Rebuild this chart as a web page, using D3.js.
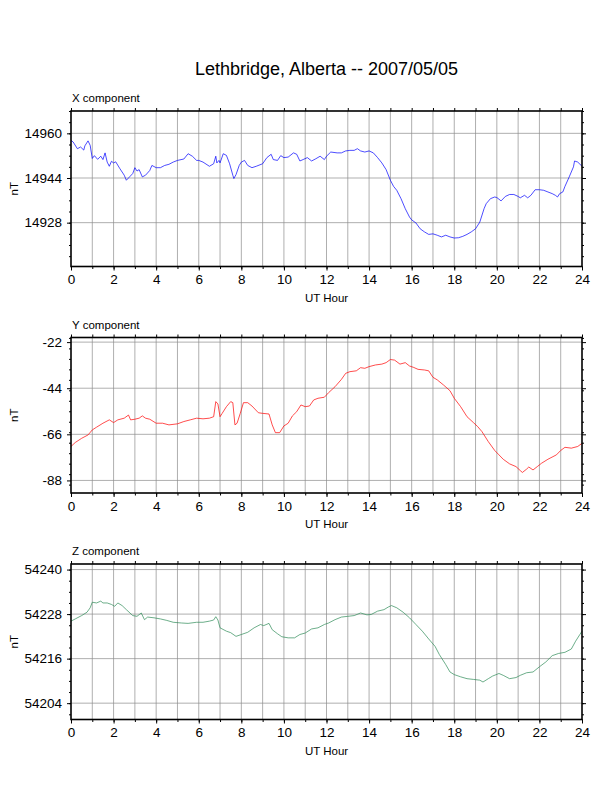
<!DOCTYPE html>
<html>
<head>
<meta charset="utf-8">
<script src="https://cdn.jsdelivr.net/npm/d3@7"></script>
<style>
  body { margin: 0; background: #fff; }
  text { font-family: "Liberation Sans", Arial, Helvetica, sans-serif; fill: #000; }
</style>
</head>
<body>
<svg id="container" width="612" height="792"></svg>
<script>
// X component (nT)
var xHours = [0, 0.1, 0.3, 0.45, 0.6, 0.65, 0.8, 0.9, 1.0, 1.1, 1.25, 1.4, 1.5, 1.6, 1.7, 1.8, 1.9, 2.0, 2.1, 2.3, 2.5, 2.6, 2.75, 2.9, 3.0, 3.1, 3.2, 3.35, 3.5, 3.7, 3.8, 4.0, 4.2, 4.4, 4.6, 4.8, 5.0, 5.3, 5.5, 5.7, 5.9, 6.0, 6.2, 6.5, 6.7, 6.8, 6.85, 6.95, 7.0, 7.15, 7.3, 7.45, 7.6, 7.65, 7.75, 7.9, 8.0, 8.15, 8.3, 8.5, 8.7, 9.0, 9.2, 9.4, 9.5, 9.7, 9.85, 10.0, 10.2, 10.45, 10.6, 10.75, 10.9, 11.1, 11.3, 11.5, 11.7, 11.9, 12.0, 12.2, 12.5, 12.7, 12.9, 13.1, 13.3, 13.45, 13.6, 13.8, 14.0, 14.2, 14.4, 14.6, 14.8, 15.0, 15.15, 15.3, 15.5, 15.7, 15.9, 16.0, 16.2, 16.4, 16.6, 16.8, 17.0, 17.2, 17.4, 17.6, 17.8, 18.0, 18.2, 18.4, 18.6, 18.8, 19.0, 19.2, 19.4, 19.5, 19.7, 19.9, 20.0, 20.2, 20.4, 20.6, 20.8, 21.0, 21.1, 21.3, 21.45, 21.6, 21.8, 22.0, 22.2, 22.4, 22.6, 22.75, 22.85, 22.95, 23.1, 23.2, 23.4, 23.6, 23.65, 23.8, 24.0];
var xValues = [14957.5, 14956.9, 14954.5, 14955.1, 14954.0, 14955.5, 14957.3, 14955.7, 14951.0, 14952.0, 14950.7, 14951.8, 14950.6, 14953.0, 14949.7, 14948.2, 14950.0, 14949.4, 14949.8, 14947.3, 14945.0, 14943.2, 14944.4, 14945.6, 14947.7, 14946.5, 14947.0, 14944.4, 14945.0, 14946.7, 14948.5, 14947.7, 14947.7, 14948.5, 14948.9, 14949.7, 14950.3, 14950.8, 14952.7, 14951.8, 14950.3, 14950.3, 14949.7, 14948.2, 14949.1, 14951.8, 14949.4, 14950.3, 14949.4, 14952.7, 14952.1, 14949.1, 14945.0, 14943.8, 14945.2, 14948.5, 14949.7, 14950.3, 14948.5, 14947.7, 14948.2, 14949.1, 14951.3, 14952.5, 14950.6, 14950.3, 14952.0, 14951.3, 14951.5, 14953.0, 14952.5, 14950.1, 14950.6, 14951.3, 14950.1, 14950.9, 14951.8, 14950.6, 14951.8, 14953.3, 14953.0, 14953.0, 14953.7, 14953.9, 14953.9, 14954.5, 14953.7, 14953.3, 14953.7, 14953.0, 14951.3, 14949.4, 14947.0, 14943.2, 14941.0, 14939.6, 14936.6, 14933.0, 14930.0, 14929.0, 14927.9, 14925.8, 14924.7, 14923.8, 14924.0, 14923.5, 14922.9, 14923.5, 14922.9, 14922.5, 14922.6, 14923.1, 14923.8, 14924.7, 14925.8, 14928.2, 14933.0, 14934.8, 14936.6, 14937.2, 14937.0, 14935.8, 14937.4, 14938.1, 14938.1, 14937.4, 14936.9, 14937.8, 14936.9, 14937.8, 14939.8, 14939.8, 14939.6, 14939.0, 14938.4, 14937.8, 14937.2, 14938.4, 14939.0, 14941.0, 14944.4, 14948.0, 14950.1, 14949.7, 14948.2];

// Y component (nT)
var yHours = [0, 0.2, 0.5, 0.8, 1.0, 1.2, 1.5, 1.8, 2.0, 2.2, 2.5, 2.7, 2.8, 3.0, 3.2, 3.35, 3.5, 3.7, 4.0, 4.3, 4.6, 5.0, 5.3, 5.6, 5.9, 6.2, 6.5, 6.7, 6.8, 6.9, 7.0, 7.1, 7.3, 7.5, 7.6, 7.7, 7.8, 7.95, 8.1, 8.3, 8.5, 8.8, 9.0, 9.3, 9.45, 9.6, 9.8, 10.0, 10.2, 10.4, 10.6, 10.8, 11.0, 11.2, 11.4, 11.6, 11.9, 12.1, 12.4, 12.7, 12.9, 13.1, 13.4, 13.6, 13.8, 14.0, 14.3, 14.6, 14.8, 15.0, 15.2, 15.45, 15.7, 15.9, 16.1, 16.3, 16.6, 16.8, 17.0, 17.2, 17.5, 17.8, 18.0, 18.3, 18.6, 18.9, 19.1, 19.3, 19.6, 19.9, 20.1, 20.3, 20.6, 20.9, 21.1, 21.2, 21.4, 21.5, 21.7, 21.9, 22.1, 22.4, 22.8, 23.0, 23.2, 23.5, 23.8, 24.0];
var yValues = [-71.8, -69.9, -67.9, -66.3, -63.9, -62.6, -60.7, -59.1, -60.4, -59.1, -58.3, -56.8, -59.1, -58.8, -58.3, -57.2, -58.3, -58.8, -60.7, -60.7, -61.5, -61.0, -59.9, -59.1, -58.3, -58.6, -58.3, -57.6, -50.4, -51.5, -57.6, -56.0, -52.8, -50.4, -50.9, -61.5, -60.7, -56.0, -50.9, -50.9, -52.5, -55.7, -56.0, -56.3, -61.5, -65.2, -65.2, -62.0, -60.7, -57.2, -55.2, -52.0, -52.8, -52.5, -49.6, -48.8, -48.3, -46.1, -43.3, -39.8, -36.9, -36.1, -35.7, -34.2, -34.5, -33.7, -32.9, -32.5, -31.8, -30.3, -30.6, -32.5, -31.8, -33.4, -34.1, -35.0, -35.3, -35.7, -38.8, -40.0, -42.5, -45.2, -48.8, -52.8, -57.6, -60.4, -62.3, -64.7, -69.5, -73.7, -75.8, -77.9, -80.1, -81.4, -83.3, -84.2, -82.6, -81.6, -83.0, -81.4, -79.8, -77.9, -75.8, -73.7, -72.2, -72.6, -71.8, -70.3];

// Z component (nT)
var zHours = [0, 0.2, 0.5, 0.75, 0.9, 1.0, 1.2, 1.4, 1.5, 1.7, 1.9, 2.05, 2.2, 2.4, 2.6, 2.9, 3.1, 3.3, 3.45, 3.6, 3.9, 4.2, 4.5, 4.8, 5.2, 5.5, 5.9, 6.2, 6.5, 6.7, 6.8, 6.9, 7.0, 7.3, 7.5, 7.75, 8.0, 8.3, 8.6, 8.9, 9.05, 9.3, 9.45, 9.7, 9.9, 10.2, 10.5, 10.75, 11.0, 11.3, 11.6, 11.9, 12.1, 12.4, 12.7, 13.0, 13.3, 13.6, 13.9, 14.1, 14.4, 14.7, 14.9, 15.05, 15.3, 15.6, 15.9, 16.2, 16.5, 16.8, 17.1, 17.3, 17.6, 17.8, 18.0, 18.3, 18.6, 18.9, 19.2, 19.35, 19.6, 19.8, 20.1, 20.3, 20.6, 20.9, 21.1, 21.4, 21.7, 22.0, 22.3, 22.6, 22.9, 23.2, 23.5, 23.7, 23.9, 24.0];
var zValues = [54226.1, 54226.7, 54227.6, 54228.5, 54229.7, 54231.2, 54231.0, 54231.5, 54231.0, 54231.0, 54230.6, 54230.1, 54231.0, 54230.3, 54229.2, 54227.6, 54227.4, 54228.3, 54226.5, 54227.2, 54227.0, 54226.7, 54226.3, 54225.8, 54225.6, 54225.5, 54225.8, 54225.8, 54226.1, 54226.4, 54227.3, 54226.4, 54224.3, 54223.4, 54223.0, 54222.0, 54222.5, 54223.1, 54224.3, 54225.2, 54224.9, 54225.5, 54223.8, 54222.7, 54221.9, 54221.6, 54221.6, 54222.5, 54222.9, 54224.0, 54224.3, 54225.2, 54225.6, 54226.5, 54227.2, 54227.4, 54227.6, 54228.3, 54227.8, 54227.9, 54228.8, 54229.2, 54229.9, 54230.3, 54229.7, 54228.5, 54227.0, 54225.2, 54223.4, 54221.3, 54219.3, 54217.1, 54214.4, 54212.4, 54211.7, 54211.1, 54210.6, 54210.4, 54210.2, 54209.7, 54210.6, 54211.3, 54212.0, 54211.5, 54210.6, 54210.9, 54211.5, 54212.2, 54212.4, 54213.8, 54215.1, 54216.8, 54217.4, 54217.7, 54218.6, 54220.7, 54222.5, 54223.4];

var hourTicks = [0, 2, 4, 6, 8, 10, 12, 14, 16, 18, 20, 22, 24];
var panelNames = ["X component", "Y component", "Z component"];
var panelColors = ["#0000ff", "#ff0000", "#2e8b57"];
var yDomains = [[14912.3, 14968], [-94, -19.8], [54199.6, 54241.5]];
var majorSteps = [16, 22, 12];
var minorSteps = [4, 5, 3];
var titleText = "Lethbridge, Alberta -- 2007/05/05";

const main = function(){
  var svg = d3.select('#container');

  var left = 71, right = 582, plotH = 155.5;
  var tops = [111, 337.5, 564];
  var series = [
    { h: xHours, v: xValues },
    { h: yHours, v: yValues },
    { h: zHours, v: zValues }
  ];

  svg.append("text")
    .attr("x", (left + right) / 2)
    .attr("y", 75)
    .attr("text-anchor", "middle")
    .style("font-size", "18px")
    .text(titleText);

  var x = d3.scaleLinear().domain([0, 24]).range([left, right]);

  // multiples of step that fall inside the domain
  var stepTicks = function(dom, step) {
    var lo = Math.ceil(dom[0] / step - 1e-9), hi = Math.floor(dom[1] / step + 1e-9);
    return d3.range(lo, hi + 1).map(function(k){ return k * step; });
  };

  // plain hyphen for negatives, like the original plot
  var plainNum = function(d){ return String(Math.round(d)); };

  panelNames.forEach(function(name, i) {
    var top = tops[i], bottom = top + plotH;
    var y = d3.scaleLinear().domain(yDomains[i]).range([bottom, top]);
    var g = svg.append("g");
    var major = stepTicks(yDomains[i], majorSteps[i]);
    var minor = stepTicks(yDomains[i], minorSteps[i]);
    var hours = d3.range(0, 25);

    // grid
    g.append("g").selectAll("line").data(hours.slice(1, 24)).join("line")
      .attr("x1", x).attr("x2", x)
      .attr("y1", top).attr("y2", bottom)
      .attr("stroke", "#8c8c8c").attr("stroke-width", 0.7);
    g.append("g").selectAll("line").data(major).join("line")
      .attr("x1", left).attr("x2", right)
      .attr("y1", y).attr("y2", y)
      .attr("stroke", "#8c8c8c").attr("stroke-width", 0.7);

    // curve
    var line = d3.line()
      .x(function(d){ return x(d[0]); })
      .y(function(d){ return y(d[1]); });
    g.append("path")
      .datum(d3.zip(series[i].h, series[i].v))
      .attr("fill", "none")
      .attr("stroke", panelColors[i])
      .attr("stroke-width", 0.7)
      .attr("d", line);

    // left axis: labels on majors, short ticks on minors
    var leftAxis = d3.axisLeft(y).tickValues(major).tickSize(4).tickPadding(5).tickFormat(plainNum);
    var la = g.append("g").attr("transform", "translate(" + left + ",0)").call(leftAxis);
    la.select(".domain").remove();
    la.selectAll("text").style("font-size", "13.5px");
    g.append("g").attr("transform", "translate(" + left + ",0)")
      .call(d3.axisLeft(y).tickValues(minor).tickSize(2).tickFormat(""))
      .select(".domain").remove();

    // right axis ticks only
    var ra = g.append("g").attr("transform", "translate(" + right + ",0)");
    ra.call(d3.axisRight(y).tickValues(major).tickSize(4).tickFormat(""));
    ra.select(".domain").remove();
    g.append("g").attr("transform", "translate(" + right + ",0)")
      .call(d3.axisRight(y).tickValues(minor).tickSize(2).tickFormat(""))
      .select(".domain").remove();

    // bottom axis
    var ba = g.append("g").attr("transform", "translate(0," + bottom + ")")
      .call(d3.axisBottom(x).tickValues(hourTicks).tickSize(4).tickPadding(4).tickFormat(plainNum));
    ba.select(".domain").remove();
    ba.selectAll("text").style("font-size", "13.5px");
    g.append("g").attr("transform", "translate(0," + bottom + ")")
      .call(d3.axisBottom(x).tickValues(hours).tickSize(2.5).tickFormat(""))
      .select(".domain").remove();

    // top axis ticks
    g.append("g").attr("transform", "translate(0," + top + ")")
      .call(d3.axisTop(x).tickValues(hours).tickSize(3).tickFormat(""))
      .select(".domain").remove();

    // frame
    g.append("rect")
      .attr("x", left).attr("y", top)
      .attr("width", right - left).attr("height", plotH)
      .attr("fill", "none").attr("stroke", "#000").attr("stroke-width", 1.6);

    g.append("text")
      .attr("x", left + 1).attr("y", top - 9)
      .style("font-size", "11.5px")
      .text(name);

    g.append("text")
      .attr("x", (left + right) / 2).attr("y", bottom + 35)
      .attr("text-anchor", "middle")
      .style("font-size", "11.5px")
      .text("UT Hour");

    g.append("text")
      .attr("transform", "translate(18," + (top + plotH / 2) + ") rotate(-90)")
      .attr("text-anchor", "middle")
      .style("font-size", "11.5px")
      .text("nT");
  });
}

main();
</script>
</body>
</html>
